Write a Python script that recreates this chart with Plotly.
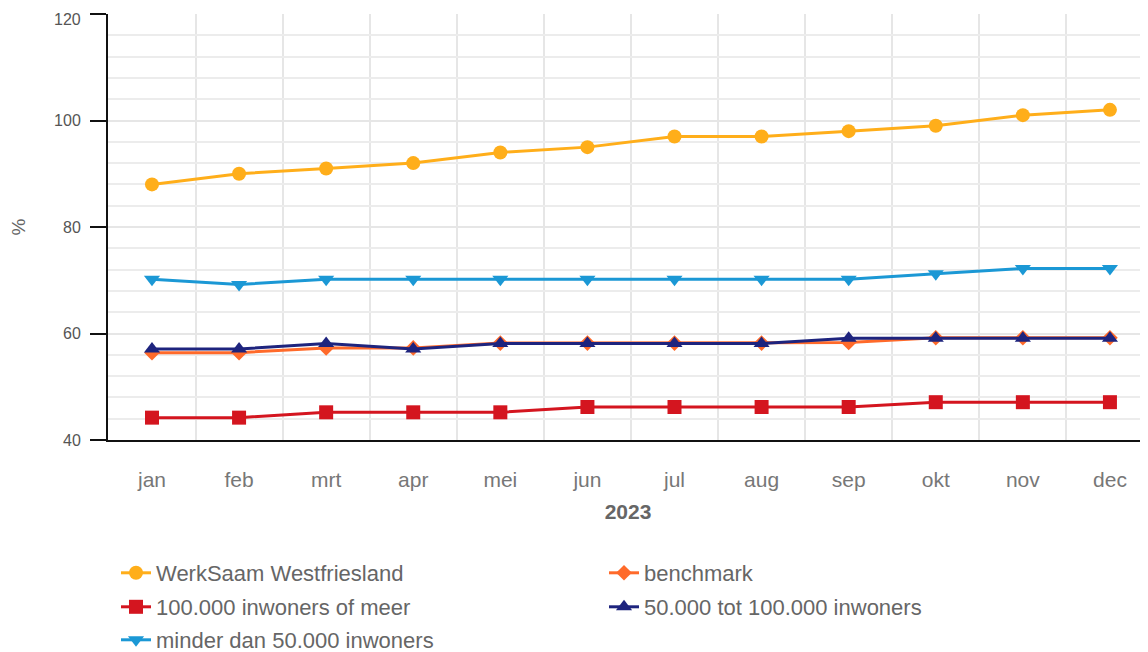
import plotly.graph_objects as go

months = ["jan", "feb", "mrt", "apr", "mei", "jun", "jul", "aug", "sep", "okt", "nov", "dec"]
werksaam = [88, 90, 91, 92, 94, 95, 97, 97, 98, 99, 101, 102]
benchmark = [56.4, 56.4, 57.3, 57.3, 58.2, 58.2, 58.2, 58.2, 58.3, 59.2, 59.2, 59.2]
groot = [44.2, 44.2, 45.2, 45.2, 45.2, 46.2, 46.2, 46.2, 46.2, 47.1, 47.1, 47.1]
midden = [57.1, 57.1, 58.1, 57.1, 58.1, 58.1, 58.1, 58.1, 59.1, 59.1, 59.1, 59.1]
klein = [70.2, 69.2, 70.2, 70.2, 70.2, 70.2, 70.2, 70.2, 70.2, 71.2, 72.2, 72.2]
y_ticks = [40, 60, 80, 100, 120]

x = list(range(len(months)))

series = [
    ("WerkSaam Westfriesland", werksaam, "#FFAE1A", "circle", 14, "legend"),
    ("benchmark", benchmark, "#FF6A2A", "diamond", 12, "legend"),
    ("100.000 inwoners of meer", groot, "#D4151F", "square", 14, "legend2"),
    ("50.000 tot 100.000 inwoners", midden, "#1E247E", "triangle-up", 14, "legend2"),
    ("minder dan 50.000 inwoners", klein, "#1B98D5", "triangle-down", 14, "legend3"),
]

fig = go.Figure()
for name, vals, color, sym, size, lg in series:
    fig.add_trace(go.Scatter(
        x=x, y=vals, name=name, mode="lines+markers",
        line=dict(color=color, width=3),
        marker=dict(symbol=sym, size=size, color=color),
        legend=lg, hoverinfo="skip",
    ))

# page body adds an 8px offset; figure is sized so the plot reaches the window edge
W, H = 1140, 644
PLOT_TOP, PLOT_H = 6, 426
def leg_y(px):
    return 1 - px / H

FONT = "Liberation Sans, Arial, sans-serif"
TICK_FONT = dict(family=FONT, size=16, color="#555555")
leg_common = dict(
    orientation="h", x=0.0077, xanchor="left", yanchor="middle", yref="container",
    font=dict(family=FONT, size=22, color="#666666"),
    entrywidth=443, entrywidthmode="pixels", bgcolor="rgba(0,0,0,0)",
    itemclick=False, itemdoubleclick=False,
)

# top tick label is nudged down inside the figure, as in the original
tick_text = [str(v) if v != max(y_ticks) else "" for v in y_ticks]
fig.add_annotation(
    x=0, xref="paper", y=max(y_ticks), yref="y", text=str(max(y_ticks)),
    showarrow=False, xanchor="right", yanchor="middle",
    xshift=-25, yshift=-5, font=TICK_FONT,
)

fig.update_layout(
    width=W, height=H,
    margin=dict(l=100, r=0, t=PLOT_TOP, b=H - PLOT_TOP - PLOT_H, autoexpand=False),
    paper_bgcolor="white", plot_bgcolor="white",
    font=dict(family=FONT, color="#555555"),
    showlegend=True,
    legend=dict(leg_common, y=leg_y(565)),
    legend2=dict(leg_common, y=leg_y(599)),
    legend3=dict(leg_common, y=leg_y(632)),
    xaxis=dict(
        range=[-0.505, 11.437], automargin=False,
        tickmode="array", tickvals=x, ticktext=months,
        showgrid=False, zeroline=False,
        showline=True, linecolor="#111111", linewidth=2,
        ticks="", ticklabelstandoff=20,
        tickfont=dict(size=21, color="#777777"),
        title=dict(text="<b>2023</b>", font=dict(size=21, color="#666666"), standoff=14),
        minor=dict(tickmode="array", tickvals=[i + 0.5 for i in range(-1, 12)],
                   showgrid=True, gridcolor="#e6e6e6", gridwidth=1.5, ticks=""),
    ),
    yaxis=dict(
        range=[40, 120], tickmode="array", tickvals=y_ticks, ticktext=tick_text,
        automargin=False,
        showgrid=True, gridcolor="#e6e6e6", gridwidth=1.5, zeroline=False,
        showline=True, linecolor="#111111", linewidth=2,
        ticks="outside", ticklen=16, tickwidth=2, tickcolor="#111111",
        ticklabelstandoff=6,
        tickfont=TICK_FONT,
        title=dict(text="%", font=dict(size=19, color="#666666"), standoff=38),
        minor=dict(tickmode="linear", tick0=40, dtick=4, showgrid=True,
                   gridcolor="#ececec", gridwidth=1.5, ticks=""),
    ),
)

fig.write_html("out.html")
